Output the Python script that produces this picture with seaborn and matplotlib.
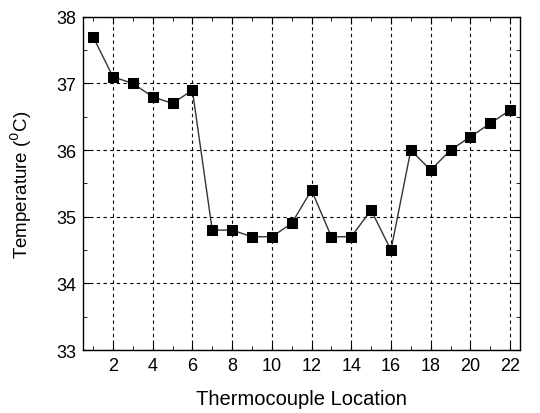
import numpy as np
import pandas as pd
import matplotlib
matplotlib.use('Agg')
import matplotlib.pyplot as plt
import seaborn as sns
from matplotlib.ticker import MultipleLocator

locations = list(range(1, 23))
temperatures = [37.7, 37.1, 37.0, 36.8, 36.7, 36.9, 34.8, 34.8, 34.7, 34.7, 34.9,
                35.4, 34.7, 34.7, 35.1, 34.5, 36.0, 35.7, 36.0, 36.2, 36.4, 36.6]

df = pd.DataFrame({'location': locations, 'temp': temperatures})

sns.set_style('ticks', {'text.color': 'black', 'axes.labelcolor': 'black',
                        'xtick.color': 'black', 'ytick.color': 'black'})
plt.rcParams['font.family'] = ['Liberation Sans', 'DejaVu Sans']

fig = plt.figure(figsize=(5.4, 4.14), dpi=100)
ax = fig.add_axes([0.154, 0.152, 0.809, 0.805])

sns.lineplot(data=df, x='location', y='temp', ax=ax, color='#333333', linewidth=1.0,
             marker='s', markersize=7.5, markerfacecolor='black', markeredgecolor='black')

ax.set_xlim(0.5, 22.5)
ax.set_ylim(33, 38)
ax.xaxis.set_major_locator(MultipleLocator(2))
ax.xaxis.set_minor_locator(MultipleLocator(1))
ax.yaxis.set_major_locator(MultipleLocator(1))
ax.yaxis.set_minor_locator(MultipleLocator(0.5))
ax.grid(True, which='major', color='black', linestyle=(0, (3, 3)), linewidth=0.8)
ax.tick_params(which='both', direction='in', top=True, right=True, labelsize=13)
ax.tick_params(which='major', length=5, pad=5)
ax.tick_params(which='minor', length=3)
for s in ax.spines.values():
    s.set_linewidth(1.0)
    s.set_color('black')

ax.set_xlabel('Thermocouple Location', fontsize=14.5, labelpad=10.5)
ax.set_ylabel('Temperature ($^0$C)', fontsize=13.5, labelpad=16)

fig.savefig('out.png', dpi=100)
